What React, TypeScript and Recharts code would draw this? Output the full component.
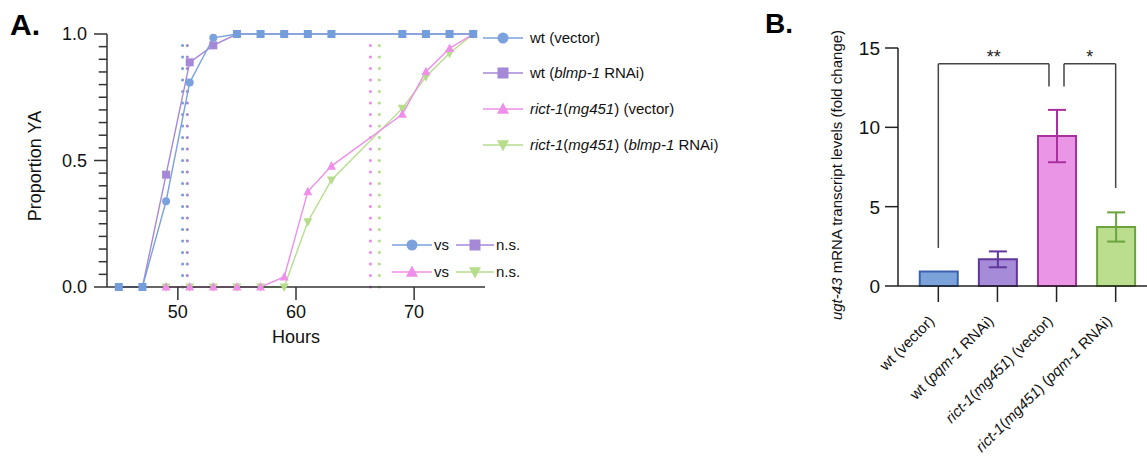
import React from 'react';
import { LineChart, Line, XAxis, YAxis, ReferenceLine, Legend, BarChart, Bar, ErrorBar } from 'recharts';

// ---- panel A: developmental timing ----
const hours = [45, 47, 49, 51, 53, 55, 57, 59, 61, 63, 69, 71, 73, 75];
const wtVector = [0, 0, 0.339, 0.808, 0.985, 1, 1, 1, 1, 1, 1, 1, 1, 1];
const wtBlmp = [0, 0, 0.444, 0.888, 0.955, 1, 1, 1, 1, 1, 1, 1, 1, 1];
const rictVector = [null, null, 0, 0, 0, 0, 0, 0.04, 0.377, 0.478, 0.683, 0.851, 0.943, 1];
const rictBlmp = [null, null, 0, 0, 0, 0, 0, 0, 0.258, 0.423, 0.706, 0.831, 0.924, 1];
const medianHours = [50.4, 50.8, 66.3, 67.05];
const xDomainA = [44, 76];
const xTicksA = [50, 60, 70];
const yTicksA = [0, 0.5, 1];
const yMinorA = [0.05, 0.1, 0.15, 0.2, 0.25, 0.3, 0.35, 0.4, 0.45, 0.55, 0.6, 0.65, 0.7, 0.75, 0.8, 0.85, 0.9, 0.95];
const minorTickHours = 0.7; // length of the minor tick marks, in hours

type Seg = [string, boolean];
const seriesLabelsA: Seg[][] = [
  [['wt (vector)', false]],
  [['wt (', false], ['blmp-1', true], [' RNAi)', false]],
  [['rict-1', true], ['(', false], ['mg451', true], [') (vector)', false]],
  [['rict-1', true], ['(', false], ['mg451', true], [') (', false], ['blmp-1', true], [' RNAi)', false]],
];

// ---- panel B: ugt-43 qPCR ----
const groupLabels: Seg[][] = [
  [['wt (vector)', false]],
  [['wt (', false], ['pqm-1', true], [' RNAi)', false]],
  [['rict-1', true], ['(', false], ['mg451', true], [') (vector)', false]],
  [['rict-1', true], ['(', false], ['mg451', true], [') (', false], ['pqm-1', true], [' RNAi)', false]],
];
const groupPos = [1, 2, 3, 4];
const foldChange = [0.92, 1.68, 9.45, 3.72];
const foldSem = [0, 0.5, 1.65, 0.92];
const yTicksB = [0, 5, 10, 15];
const bracketX = [[1, 2.872], [3.126, 4]];
const bracketFeet = [[2.4, 12.57], [12.57, 6.18]];
const bracketTop = 14;
const sigLabels = ['**', '*'];

const BLUE = '#7ba2dc';
const PURPLE = '#a588d8';
const PINK = '#ef8fea';
const GREEN = '#b6dd8c';
const barFills = ['#7ba3da', '#a68bd8', '#ea95e6', '#badd8e'];
const barStrokes = ['#3d62ad', '#61369c', '#a9309f', '#6ba33c'];
const FONT = '"Liberation Sans", Arial, sans-serif';

const dataA = hours.map((h, i) => ({
  h,
  wtVector: wtVector[i],
  wtBlmp: wtBlmp[i],
  rictVector: rictVector[i],
  rictBlmp: rictBlmp[i],
}));

const dataB = groupPos.map((p, i) => {
  const row: any = { pos: p };
  row['v' + i] = foldChange[i];
  if (foldSem[i] > 0) row['e' + i] = foldSem[i];
  return row;
});

const segs = (s: Seg[]) =>
  s.map(([t, it], k) => (
    <tspan key={k} fontStyle={it ? 'italic' : 'normal'}>{t}</tspan>
  ));

const Mark = ({ kind, cx, cy, s, fill }: any) => {
  if (kind === 'circle') return <circle cx={cx} cy={cy} r={s / 2} fill={fill} />;
  if (kind === 'square') return <rect x={cx - s / 2} y={cy - s / 2} width={s} height={s} fill={fill} />;
  if (kind === 'up')
    return <polygon points={`${cx},${cy - s * 0.55} ${cx - s / 2},${cy + s * 0.4} ${cx + s / 2},${cy + s * 0.4}`} fill={fill} />;
  return <polygon points={`${cx},${cy + s * 0.55} ${cx - s / 2},${cy - s * 0.4} ${cx + s / 2},${cy - s * 0.4}`} fill={fill} />;
};

// where both wt series coincide only the (blue) square shows, like the original
const blueDot = (p: any) => {
  if (p.cy == null || p.payload.wtVector === p.payload.wtBlmp) return <g key={p.key} />;
  return <Mark key={p.key} kind="circle" cx={p.cx} cy={p.cy} s={8} fill={BLUE} />;
};
const purpleDot = (p: any) => {
  if (p.cy == null) return <g key={p.key} />;
  const same = p.payload.wtVector === p.payload.wtBlmp;
  return <Mark key={p.key} kind="square" cx={p.cx} cy={p.cy} s={8} fill={same ? '#739ddb' : PURPLE} />;
};
const pinkDot = (p: any) =>
  p.cy == null ? <g key={p.key} /> : <Mark key={p.key} kind="up" cx={p.cx} cy={p.cy} s={9} fill={PINK} />;
const greenDot = (p: any) =>
  p.cy == null ? <g key={p.key} /> : <Mark key={p.key} kind="down" cx={p.cx} cy={p.cy} s={9} fill={GREEN} />;

const YTickA = ({ x, y, payload }: any) => (
  <g>
    <line x1={x - 13} x2={x} y1={y} y2={y} stroke="#333" strokeWidth={1.5} />
    <text x={x - 20} y={y + 6} textAnchor="end" fontSize={18} fill="#111" fontFamily={FONT}>
      {Number(payload.value).toFixed(1)}
    </text>
  </g>
);

const XTickA = ({ x, y, payload }: any) => (
  <g>
    <line x1={x} x2={x} y1={y} y2={y + 13} stroke="#333" strokeWidth={1.5} />
    <text x={x} y={y + 31} textAnchor="middle" fontSize={18} fill="#111" fontFamily={FONT}>
      {payload.value}
    </text>
  </g>
);

const legendRowsA = [
  { kind: 'circle', color: BLUE },
  { kind: 'square', color: PURPLE },
  { kind: 'up', color: PINK },
  { kind: 'down', color: GREEN },
];
const legendYA = [38, 73, 109, 145];

const LegendA = () => (
  <svg width={770} height={360} style={{ display: 'block', fontFamily: FONT }}>
    {legendRowsA.map((r, i) => (
      <g key={i}>
        <line x1={483} x2={523} y1={legendYA[i]} y2={legendYA[i]} stroke={r.color} strokeWidth={1.5} />
        <Mark kind={r.kind} cx={503} cy={legendYA[i]} s={r.kind === 'circle' ? 11 : r.kind === 'square' ? 11 : 12} fill={r.color} />
        <text x={530} y={legendYA[i] + 5} fontSize={15} fill="#111">{segs(seriesLabelsA[i])}</text>
      </g>
    ))}
    {[0, 1].map((row) => {
      const y = row === 0 ? 245 : 272;
      const a = legendRowsA[row * 2];
      const b = legendRowsA[row * 2 + 1];
      return (
        <g key={row}>
          <line x1={392} x2={432} y1={y} y2={y} stroke={a.color} strokeWidth={1.5} />
          <Mark kind={a.kind} cx={412} cy={y} s={a.kind === 'circle' ? 11 : 12} fill={a.color} />
          <text x={434} y={y + 5} fontSize={15} fill="#111">vs</text>
          <line x1={456} x2={494} y1={y} y2={y} stroke={b.color} strokeWidth={1.5} />
          <Mark kind={b.kind} cx={475} cy={y} s={b.kind === 'square' ? 11 : 12} fill={b.color} />
          <text x={496} y={y + 5} fontSize={15} fill="#111">n.s.</text>
        </g>
      );
    })}
  </svg>
);

const YTickB = ({ x, y, payload }: any) => (
  <g>
    <line x1={x - 13} x2={x} y1={y} y2={y} stroke="#222" strokeWidth={1.5} />
    <text x={x - 18} y={y + 7} textAnchor="end" fontSize={19} fill="#111" fontFamily={FONT}>
      {payload.value}
    </text>
  </g>
);

const XTickB = ({ x, y, payload }: any) => {
  const i = groupPos.indexOf(payload.value);
  return (
    <g>
      <line x1={x} x2={x} y1={y} y2={y + 16} stroke="#222" strokeWidth={1.5} />
      <text
        transform={`translate(${x - 3},${y + 36}) rotate(-45)`}
        textAnchor="end"
        fontSize={15}
        fill="#111"
        fontFamily={FONT}
      >
        {segs(groupLabels[i] || [])}
      </text>
    </g>
  );
};

const starLabel = (t: string) => (props: any) => {
  const vb = props.viewBox || {};
  return (
    <text x={vb.x + vb.width / 2} y={vb.y - 1} textAnchor="middle" fontSize={18} fill="#222" fontFamily={FONT}>
      {t}
    </text>
  );
};

export default function App() {
  return (
    <div style={{ position: 'absolute', left: 0, top: 0, width: 1147, height: 459, background: '#fff', fontFamily: FONT }}>
      <div style={{ position: 'absolute', left: 10, top: 10, fontSize: 30, fontWeight: 'bold', lineHeight: '30px' }}>A.</div>
      <div style={{ position: 'absolute', left: 765, top: 10, fontSize: 28, fontWeight: 'bold', lineHeight: '28px' }}>B.</div>

      <div style={{ position: 'absolute', left: 0, top: 0 }}>
        <LineChart width={770} height={360} data={dataA} margin={{ top: 34, right: 285, bottom: 23, left: 47 }}>
          <XAxis
            type="number"
            dataKey="h"
            domain={xDomainA}
            ticks={xTicksA}
            tick={<XTickA />}
            tickLine={false}
            tickSize={0}
            tickMargin={0}
            height={50}
            stroke="#333"
            strokeWidth={1.5}
            label={(p: any) => (
              <text x={296} y={343} textAnchor="middle" fontSize={18} fill="#111" fontFamily={FONT}>Hours</text>
            )}
          />
          <YAxis
            type="number"
            domain={[0, 1]}
            ticks={yTicksA}
            interval={0}
            tick={<YTickA />}
            tickLine={false}
            tickSize={0}
            tickMargin={0}
            width={60}
            stroke="#333"
            strokeWidth={1.5}
            label={(p: any) => (
              <text transform="translate(41,166) rotate(-90)" textAnchor="middle" fontSize={18} fill="#111" fontFamily={FONT}>
                Proportion YA
              </text>
            )}
          />
          {yMinorA.map((v) => (
            <ReferenceLine
              key={'m' + v}
              segment={[{ x: xDomainA[0] - minorTickHours, y: v }, { x: xDomainA[0], y: v }]}
              stroke="#333"
              strokeWidth={1.5}
              ifOverflow="visible"
            />
          ))}
          {medianHours.map((m, i) => (
            <ReferenceLine
              key={i}
              x={m}
              stroke={[BLUE, PURPLE, PINK, GREEN][i]}
              strokeWidth={3.2}
              strokeDasharray="0 11.5"
              strokeLinecap="round"
            />
          ))}
          <Line dataKey="rictBlmp" stroke={GREEN} strokeWidth={1.4} dot={greenDot} connectNulls isAnimationActive={false} />
          <Line dataKey="rictVector" stroke={PINK} strokeWidth={1.4} dot={pinkDot} connectNulls isAnimationActive={false} />
          <Line dataKey="wtBlmp" stroke={PURPLE} strokeWidth={1.4} dot={purpleDot} isAnimationActive={false} />
          <Line dataKey="wtVector" stroke={BLUE} strokeWidth={1.4} dot={blueDot} isAnimationActive={false} />
          <Legend
            layout="vertical"
            align="center"
            verticalAlign="middle"
            content={() => <LegendA />}
            wrapperStyle={{ position: 'absolute', left: 0, top: 0, width: 770, height: 360, pointerEvents: 'none' }}
          />
        </LineChart>
      </div>

      <div style={{ position: 'absolute', left: 770, top: 0 }}>
        <BarChart width={377} height={459} data={dataB} margin={{ top: 48, right: 0, bottom: 0, left: 88 }}>
          <XAxis
            type="number"
            dataKey="pos"
            domain={[0.318, 4.53]}
            ticks={groupPos}
            interval={0}
            tick={<XTickB />}
            tickLine={false}
            tickSize={0}
            tickMargin={0}
            height={173}
            stroke="#222"
            strokeWidth={1.5}
          />
          <YAxis
            type="number"
            domain={[0, 15]}
            ticks={yTicksB}
            interval={0}
            tick={<YTickB />}
            tickLine={false}
            tickSize={0}
            tickMargin={0}
            width={40}
            stroke="#222"
            strokeWidth={1.5}
            label={(p: any) => (
              <text transform="translate(72,175) rotate(-90)" textAnchor="middle" fontSize={15} fill="#111" fontFamily={FONT}>
                <tspan fontStyle="italic">ugt-43</tspan> mRNA transcript levels (fold change)
              </text>
            )}
          />
          {groupPos.map((_, i) => (
            <Bar
              key={i}
              dataKey={'v' + i}
              stackId="s"
              barSize={38}
              fill={barFills[i]}
              stroke={barStrokes[i]}
              strokeWidth={2}
              isAnimationActive={false}
            >
              {foldSem[i] > 0 && (
                <ErrorBar dataKey={'e' + i} direction="y" width={9} strokeWidth={2} stroke={barStrokes[i]} />
              )}
            </Bar>
          ))}
          {bracketX.map(([x1, x2], i) => (
            <React.Fragment key={i}>
              <ReferenceLine
                segment={[{ x: x1, y: bracketFeet[i][0] }, { x: x1, y: bracketTop }]}
                stroke="#444"
                strokeWidth={1.5}
                ifOverflow="visible"
              />
              <ReferenceLine
                segment={[{ x: x1, y: bracketTop }, { x: x2, y: bracketTop }]}
                stroke="#444"
                strokeWidth={1.5}
                ifOverflow="visible"
                label={starLabel(sigLabels[i])}
              />
              <ReferenceLine
                segment={[{ x: x2, y: bracketTop }, { x: x2, y: bracketFeet[i][1] }]}
                stroke="#444"
                strokeWidth={1.5}
                ifOverflow="visible"
              />
            </React.Fragment>
          ))}
        </BarChart>
      </div>
    </div>
  );
}
